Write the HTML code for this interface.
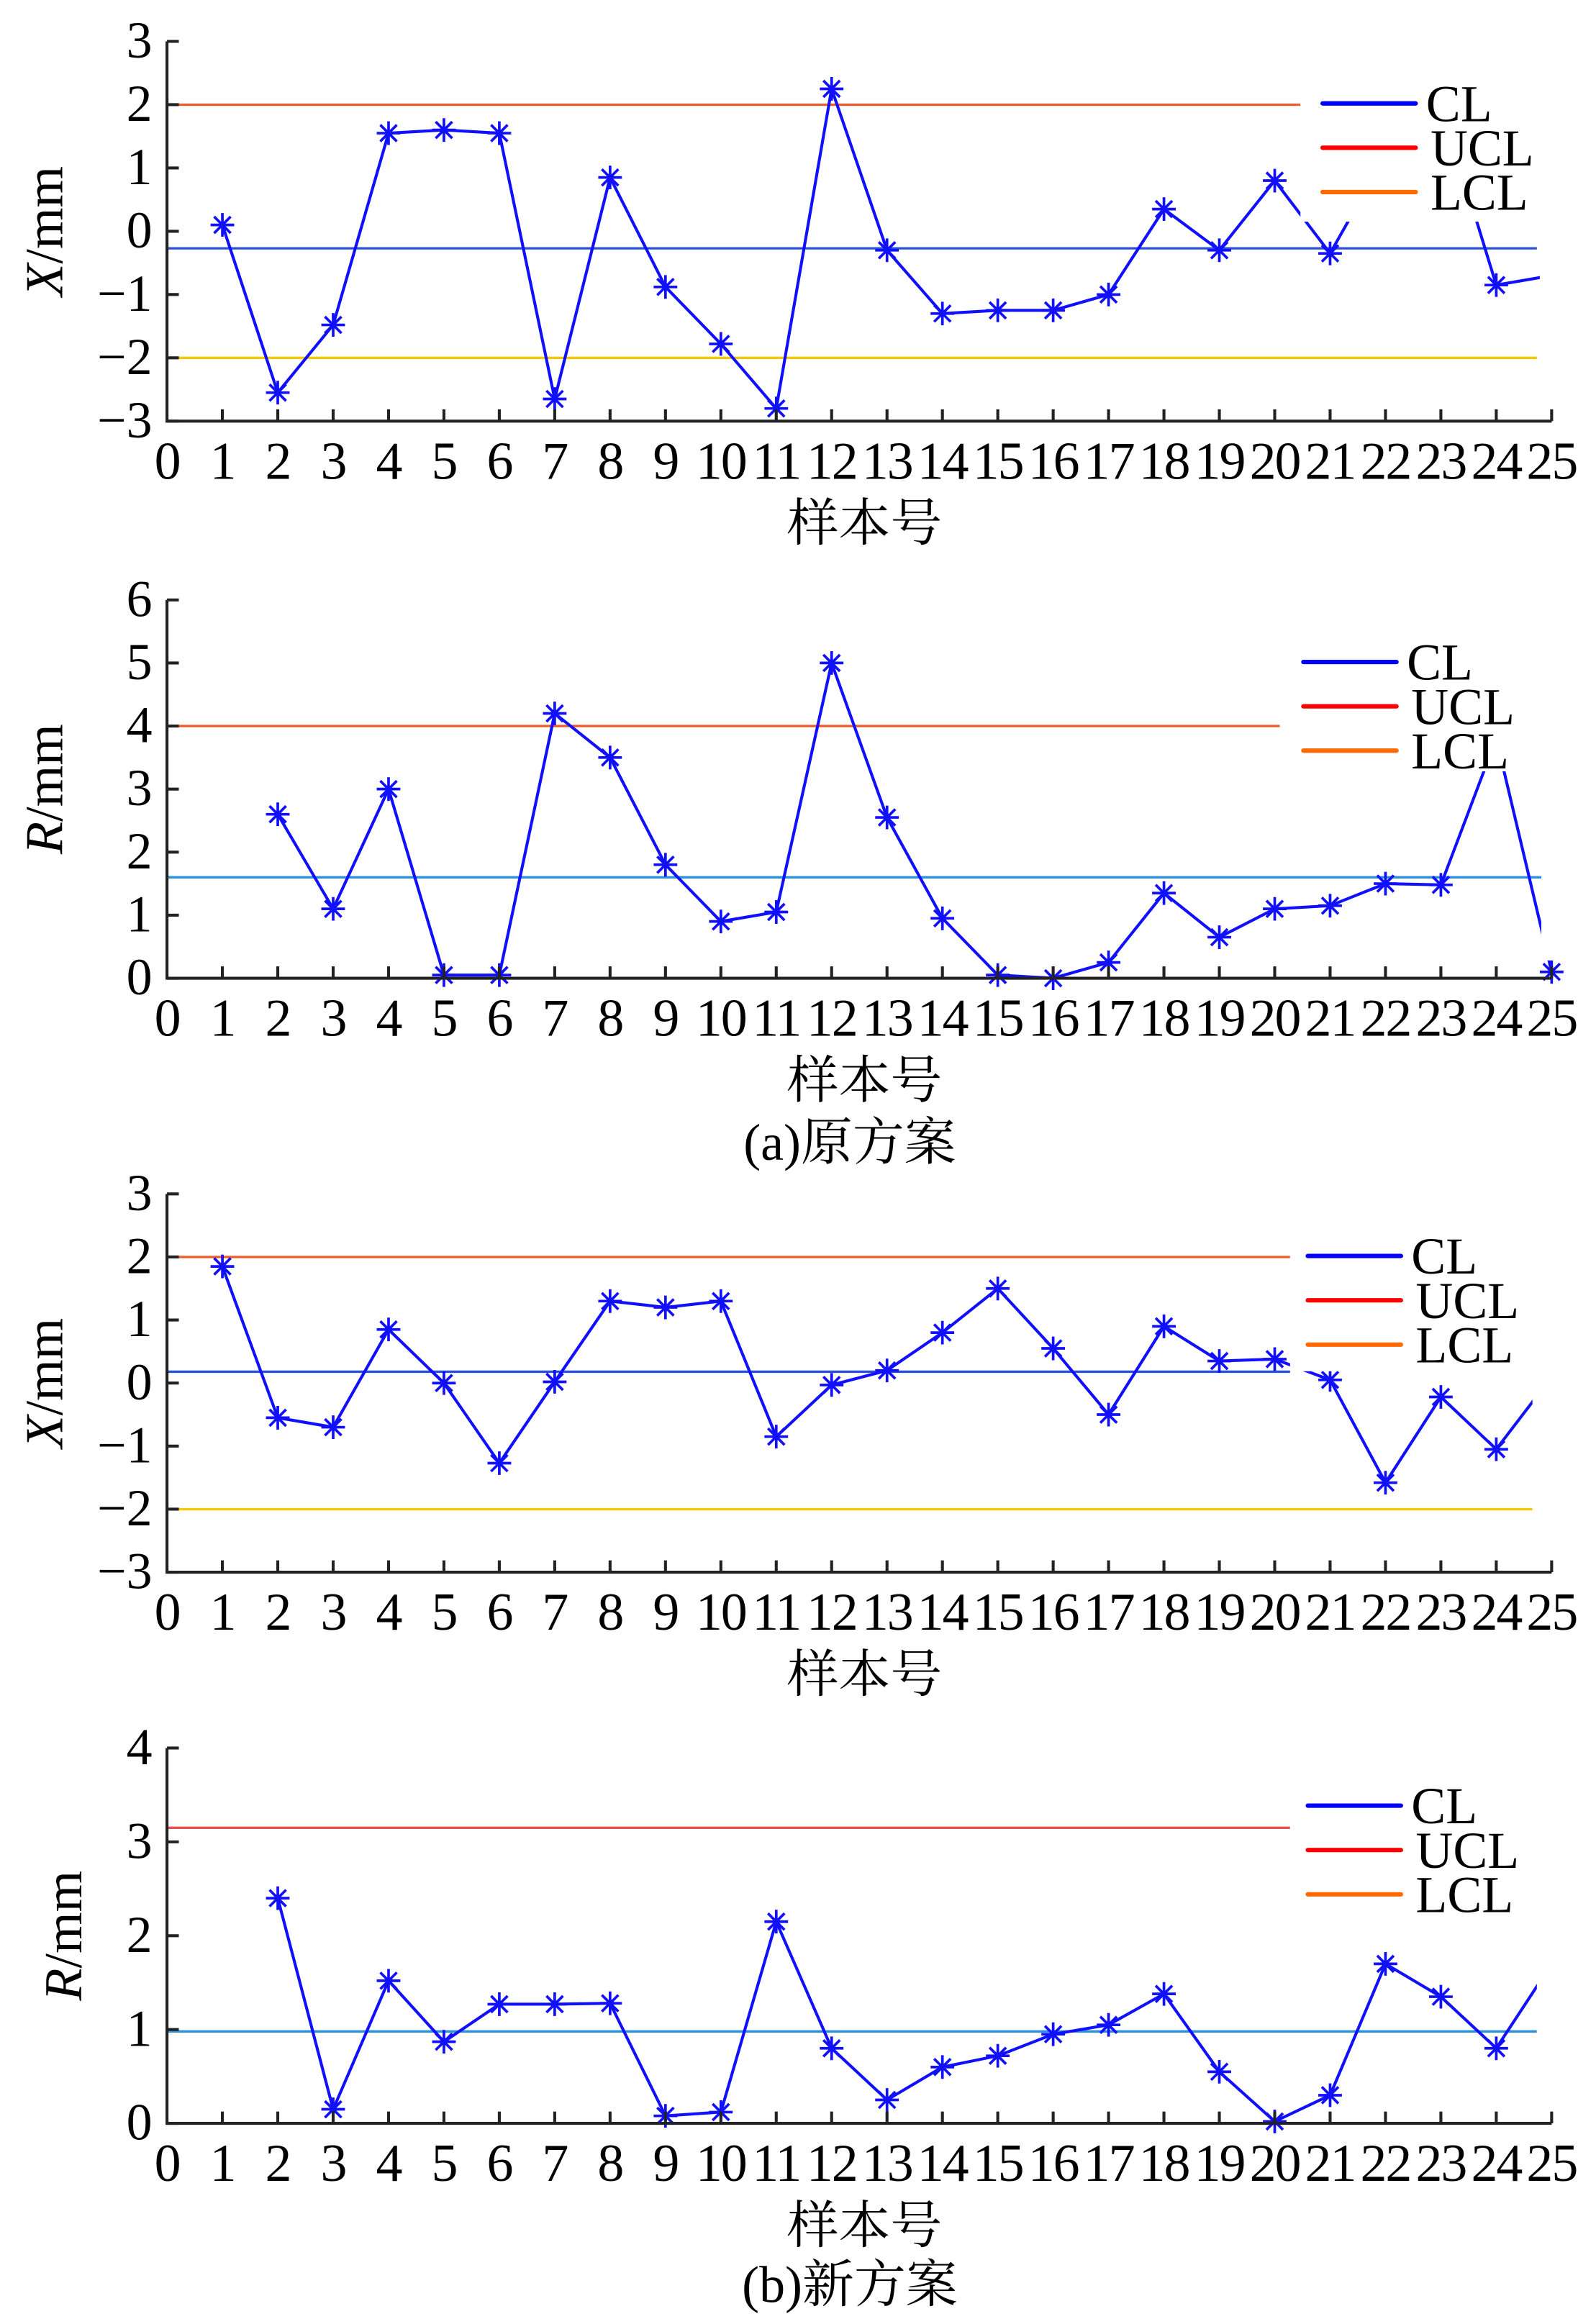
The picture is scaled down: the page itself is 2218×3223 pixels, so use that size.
<!DOCTYPE html>
<html><head><meta charset="utf-8"><style>
html,body{margin:0;padding:0;background:#fff}
svg{display:block}
text{font-family:"Liberation Serif","Noto Serif CJK SC",serif;fill:#000}
</style></head><body>
<svg id="fig" xmlns="http://www.w3.org/2000/svg" width="2218" height="3223" viewBox="0 0 1080 1569.4"></svg>
<script>
const xCats = [0,1,2,3,4,5,6,7,8,9,10,11,12,13,14,15,16,17,18,19,20,21,22,23,24,25];
const samples1 = [1,2,3,4,5,6,7,8,9,10,11,12,13,14,15,16,17,18,19,20,21,22,23,24,25];
const xbarOld = [0.1,-2.55,-1.48,1.55,1.6,1.55,-2.65,0.85,-0.88,-1.78,-2.8,2.25,-0.3,-1.3,-1.25,-1.25,-1.0,0.35,-0.3,0.8,-0.35,1.2,2.0,-0.85,-0.7];
const samples2 = [2,3,4,5,6,7,8,9,10,11,12,13,14,15,16,17,18,19,20,21,22,23,24,25];
const rOld = [2.6,1.1,3.0,0.05,0.05,4.2,3.5,1.8,0.9,1.05,5.0,2.55,0.95,0.05,0,0.25,1.35,0.65,1.1,1.15,1.5,1.48,3.8,0.1];
const xbarNew = [1.85,-0.55,-0.7,0.85,0,-1.27,0.02,1.3,1.2,1.3,-0.85,-0.03,0.2,0.8,1.5,0.55,-0.5,0.9,0.35,0.38,0.05,-1.58,-0.22,-1.05,0.1];
const rNew = [2.4,0.15,1.52,0.87,1.27,1.27,1.28,0.08,0.12,2.15,0.8,0.25,0.6,0.72,0.95,1.05,1.38,0.55,0.02,0.3,1.7,1.35,0.8,1.7];
const limitsXOld = [-0.27,2,-2];
const limitsROld = [1.6,4,0];
const limitsXNew = [0.18,2,-2];
const limitsRNew = [0.98,3.15,0];
const yTicksX = [-3,-2,-1,0,1,2,3];
const yTicksR1 = [0,1,2,3,4,5,6];
const yTicksR2 = [0,1,2,3,4];

const NS='http://www.w3.org/2000/svg';
const svg=document.getElementById('fig');
function mk(tag,at,parent){const e=document.createElementNS(NS,tag);for(const k in at)e.setAttribute(k,at[k]);(parent||svg).appendChild(e);return e;}
const X0=113,X25=1050;
const sx=v=>X0+(X25-X0)*v/25;

function chart(cfg){
  const g=mk('g',{});
  
  
  const sy=v=>cfg.yBot-(cfg.yBot-cfg.yTop)*(v-cfg.ymin)/(cfg.ymax-cfg.ymin);
  const [cl,ucl,lcl]=cfg.limits;
  let l=mk('line',{x1:X0,x2:cfg.clEnd,y1:sy(cl),y2:sy(cl),stroke:cfg.clColor,'stroke-width':1.6},g);
  
  l=mk('line',{x1:X0,x2:cfg.uclEnd,y1:sy(ucl),y2:sy(ucl),stroke:cfg.uclColor,'stroke-width':1.6},g);
  
  l=mk('line',{x1:X0,x2:cfg.lclEnd,y1:sy(lcl),y2:sy(lcl),stroke:cfg.lclColor,'stroke-width':1.6},g);
  
  const pts=cfg.xs.map((x,i)=>sx(x)+','+sy(cfg.ys[i])).join(' ');
  const pl=mk('polyline',{points:pts,fill:'none',stroke:'#1010ff','stroke-width':2},g);
  
  cfg.xs.forEach((x,i)=>{
    const cx=sx(x),cy=sy(cfg.ys[i]),r=8,d=5.6;
    const m=mk('path',{d:`M${cx-r},${cy}H${cx+r}M${cx},${cy-r}V${cy+r}M${cx-d},${cy-d}L${cx+d},${cy+d}M${cx-d},${cy+d}L${cx+d},${cy-d}`,stroke:'#1010ff','stroke-width':1.8,fill:'none'},g);
    
  });
  (cfg.masks||[]).forEach(mm=>{const r=mk('rect',{x:mm[0],y:mm[1],width:mm[2],height:mm[3],fill:'#fff'},g);
    });
  const ax=mk('path',{d:`M${X0},${cfg.yTop}V${cfg.yBot}H${X25}`,stroke:'#222','stroke-width':2,fill:'none'},g);
  
  xCats.forEach(v=>{
    if(v>0){const t=mk('line',{x1:sx(v),x2:sx(v),y1:cfg.yBot,y2:cfg.yBot-8,stroke:'#222','stroke-width':2},g);
      }
    const tx=mk('text',{x:sx(v),y:cfg.yBot+39,'font-size':36,'text-anchor':'middle','letter-spacing':'-1'},g);
    tx.textContent=v;
    
  });
  cfg.yTicks.forEach(v=>{
    const y=sy(v);
    const t=mk('line',{x1:X0,x2:X0+8,y1:y,y2:y,stroke:'#222','stroke-width':2},g);
    
    const tx=mk('text',{x:103,y:y+11,'font-size':35,'text-anchor':'end'},g);
    tx.textContent=v<0?'\u2212'+(-v):String(v);
    
  });
  const yt=mk('text',{x:0,y:0,'font-size':36,'text-anchor':'middle',transform:`translate(${cfg.ytX},${(cfg.yTop+cfg.yBot)/2}) rotate(-90)`},g);
  yt.innerHTML=`<tspan font-style="italic">${cfg.ytVar}</tspan>/mm`;
  
  const xt=mk('text',{x:585,y:cfg.yBot+81,'font-size':35,'text-anchor':'middle'},g);
  xt.textContent='样本号';
  
  const names=['CL','UCL','LCL'],cols=['#0000ff','#ff0000','#ff6a00'];
  names.forEach((n,i)=>{
    const y=cfg.legY+i*30;
    const ln=mk('line',{x1:cfg.legX,x2:cfg.legX+63,y1:y,y2:y,stroke:cols[i],'stroke-width':3,'stroke-linecap':'round'},g);
    
    const t=mk('text',{x:cfg.legX+(i==0?70:73),y:y+12,'font-size':35},g);
    t.textContent=n;
    
  });
}

chart({name:'xbar-chart-original',yTop:28,yBot:285,ymin:-3,ymax:3,xs:samples1,ys:xbarOld,limits:limitsXOld,
  clEnd:1040,uclEnd:880,lclEnd:1040,clColor:'#2a50d8',uclColor:'#f05a2a',lclColor:'#f5c800',
  masks:[[880,40,175,110],[1042,150,38,140]],yTicks:yTicksX,ytX:42,ytVar:'X',legX:895,legY:70});
chart({name:'r-chart-original',yTop:406,yBot:662,ymin:0,ymax:6,xs:samples2,ys:rOld,limits:limitsROld,
  clEnd:1043,uclEnd:866,lclEnd:1043,clColor:'#2a90e0',uclColor:'#f05a2a',lclColor:'#b05a10',
  masks:[[868,420,185,102],[1043,520,40,130]],yTicks:yTicksR1,ytX:42,ytVar:'R',legX:882,legY:448});
chart({name:'xbar-chart-new',yTop:808,yBot:1064,ymin:-3,ymax:3,xs:samples1,ys:xbarNew,limits:limitsXNew,
  clEnd:873,uclEnd:873,lclEnd:1037,clColor:'#2a50d8',uclColor:'#f05a2a',lclColor:'#f5c800',
  masks:[[873,825,180,103],[1037,820,43,236]],yTicks:yTicksX,ytX:42,ytVar:'X',legX:885,legY:850});
chart({name:'r-chart-new',yTop:1183,yBot:1437,ymin:0,ymax:4,xs:samples2,ys:rNew,limits:limitsRNew,
  clEnd:1040,uclEnd:873,lclEnd:1040,clColor:'#2a90e0',uclColor:'#e85050',lclColor:'#b05a10',
  masks:[[873,1200,180,95],[1040,1300,40,130]],yTicks:yTicksR2,ytX:55,ytVar:'R',legX:885,legY:1222});

const ca=mk('text',{x:575,y:785,'font-size':35,'text-anchor':'middle'});
ca.textContent='(a)原方案';


const cb=mk('text',{x:575,y:1558,'font-size':35,'text-anchor':'middle'});
cb.textContent='(b)新方案';


</script>
</body></html>
